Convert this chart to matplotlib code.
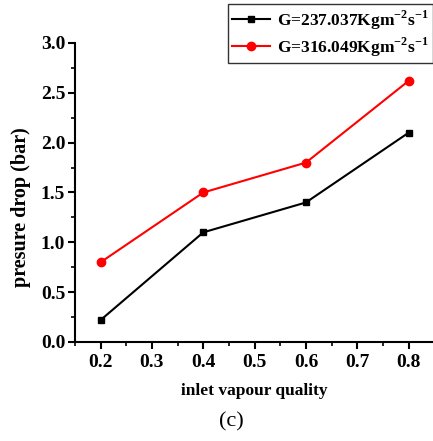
import matplotlib
matplotlib.use('Agg')
import matplotlib.pyplot as plt
from matplotlib.ticker import MultipleLocator

# data
quality = [0.2, 0.4, 0.6, 0.8]
dp_low = [0.22, 1.1, 1.4, 2.1]
dp_high = [0.8, 1.5, 1.8, 2.62]
label_low = r'G=237.037Kgm$^{\mathbf{-2}}$s$^{\mathbf{-1}}$'
label_high = r'G=316.049Kgm$^{\mathbf{-2}}$s$^{\mathbf{-1}}$'

plt.rcParams['font.family'] = 'Liberation Serif'
plt.rcParams['font.weight'] = 'bold'
plt.rcParams['mathtext.fontset'] = 'custom'
plt.rcParams['mathtext.rm'] = 'Liberation Serif:bold'
plt.rcParams['mathtext.bf'] = 'Liberation Serif:bold'

fig = plt.figure(figsize=(4.33, 4.41), dpi=100)
ax = fig.add_axes([0.173, 0.2245, 0.83, 0.678])

ax.plot(quality, dp_low, color='black', marker='s', markersize=5, lw=1.5, label=label_low)
ax.plot(quality, dp_high, color='red', marker='o', markersize=6, lw=1.5, label=label_high)

ax.set_xlim(0.15, 0.85)
ax.set_ylim(0, 3.0)
ax.xaxis.set_major_locator(MultipleLocator(0.1))
ax.xaxis.set_minor_locator(MultipleLocator(0.05))
ax.yaxis.set_major_locator(MultipleLocator(0.5))
ax.yaxis.set_minor_locator(MultipleLocator(0.25))
ax.spines['top'].set_visible(False)
ax.spines['right'].set_visible(False)
for s in ('left', 'bottom'):
    ax.spines[s].set_linewidth(1.5)
ax.tick_params(which='major', length=5, width=1.5, labelsize=14)
ax.tick_params(axis='x', which='major', pad=4)
ax.tick_params(axis='y', which='major', pad=2)
ax.tick_params(which='minor', length=3, width=1.2)
for lab in ax.get_xticklabels() + ax.get_yticklabels():
    lab.set_fontweight('bold')

ax.set_xlabel('inlet vapour quality', fontsize=12.5, fontweight='bold')
ax.set_ylabel('presure drop (bar)', fontsize=14.5, fontweight='bold')
ax.xaxis.set_label_coords(0.5, -0.137)
ax.yaxis.set_label_coords(-0.123, 0.45)
fig.text(0.535, 0.033, '(c)', ha='center', fontsize=16, fontweight='normal')

leg = ax.legend(loc='upper right', bbox_to_anchor=(0.997, 1.13), fontsize=12.5,
                frameon=True, fancybox=False, edgecolor='black', handlelength=2.2,
                borderpad=0.25, labelspacing=0.2, handletextpad=0.4, borderaxespad=0)
leg.get_frame().set_linewidth(1.0)

fig.savefig('out.png', dpi=100)
